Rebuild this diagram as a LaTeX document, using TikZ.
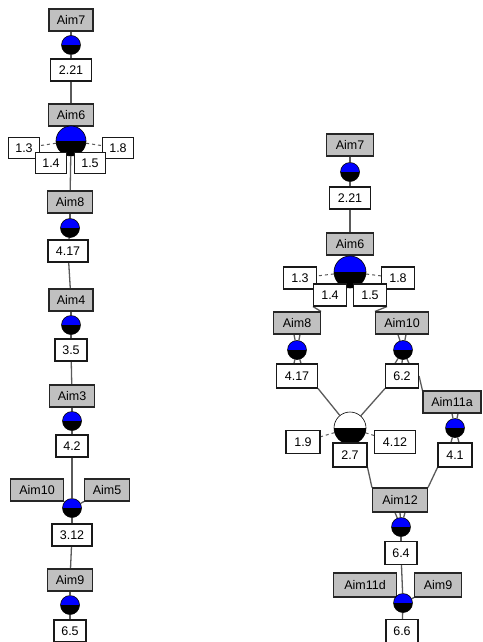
\documentclass[tikz,border=0pt]{standalone}
\usepackage{fontspec}
\setmainfont{Liberation Sans}
\usetikzlibrary{backgrounds,calc}
\definecolor{aimgray}{RGB}{192,192,192}
\definecolor{edgegray}{RGB}{90,90,90}
\tikzset{
  aim/.style={draw=black!85, fill=aimgray, line width=1.1pt, minimum height=22pt, inner sep=1pt, font=\fontsize{12.5}{12.5}\selectfont},
  val/.style={draw=black!90, fill=white, line width=1.1pt, minimum height=22pt, inner sep=1pt, font=\fontsize{12.5}{12.5}\selectfont},
  half/.style={circle, draw=black, line width=0.6pt, minimum size=#1, inner sep=0pt,
    path picture={\fill[blue] (path picture bounding box.west) rectangle (path picture bounding box.north east);
                  \fill[black] (path picture bounding box.west) rectangle (path picture bounding box.south east);}},
  half/.default=19pt,
  whalf/.style={circle, draw=black, line width=0.6pt, minimum size=#1, inner sep=0pt,
    path picture={\fill[white] (path picture bounding box.west) rectangle (path picture bounding box.north east);
                  \fill[black] (path picture bounding box.west) rectangle (path picture bounding box.south east);}},
  edge/.style={draw=edgegray, line width=1.3pt},
  dedge/.style={draw=edgegray, line width=1pt, dashed},
}
\begin{document}
\begin{tikzpicture}[x=1pt,y=-1pt]
\useasboundingbox (0,0) rectangle (482,642);
% ---------- left column ----------
\node[aim, minimum width=44pt] (A7L) at (71,20) {Aim7};
\node[half] (c7L) at (71,45) {};
\node[val, minimum width=41pt] (v221L) at (71,70) {2.21};
\node[aim, minimum width=45pt] (A6L) at (71,115) {Aim6};
\node[half=30pt] (C6L) at (71,141) {};
\node[val, minimum width=31pt, minimum height=21pt] (v13L) at (24,148) {1.3};
\node[val, minimum width=31pt, minimum height=21pt] (v18L) at (118,148) {1.8};
\node[val, minimum width=31pt, minimum height=21pt] (v14L) at (51,163) {1.4};
\node[val, minimum width=31pt, minimum height=21pt] (v15L) at (90,163) {1.5};
\node[aim, minimum width=45pt] (A8L) at (70,202) {Aim8};
\node[half] (c8L) at (70,228) {};
\node[val, minimum width=40pt] (v417L) at (68,251) {4.17};
\node[aim, minimum width=44pt] (A4L) at (71,300) {Aim4};
\node[half] (c4L) at (71,325) {};
\node[val, minimum width=32pt] (v35L) at (71,350) {3.5};
\node[aim, minimum width=45pt] (A3L) at (72,396) {Aim3};
\node[half] (c3L) at (72,421) {};
\node[val, minimum width=32pt] (v42L) at (72,446) {4.2};
\node[aim, minimum width=53pt] (A10L) at (37,490) {Aim10};
\node[aim, minimum width=45pt] (A5L) at (107,490) {Aim5};
\node[half] (c5L) at (72,508) {};
\node[val, minimum width=40pt] (v312L) at (72,535) {3.12};
\node[aim, minimum width=45pt] (A9L) at (70,580) {Aim9};
\node[half] (c9L) at (70,605) {};
\node[val, minimum width=32pt] (v65L) at (70,631) {6.5};
% ---------- right column ----------
\node[aim, minimum width=47pt] (A7R) at (350,145) {Aim7};
\node[half] (c7R) at (350,172) {};
\node[val, minimum width=41pt] (v221R) at (350,198) {2.21};
\node[aim, minimum width=47pt] (A6R) at (350,244) {Aim6};
\node[half=32pt] (C6R) at (350,272) {};
\node[val, minimum width=33pt] (v13R) at (300,278) {1.3};
\node[val, minimum width=33pt] (v18R) at (398,278) {1.8};
\node[val, minimum width=33pt] (v14R) at (330,295) {1.4};
\node[val, minimum width=33pt] (v15R) at (370,295) {1.5};
\node[aim, minimum width=47pt] (A8R) at (297,323) {Aim8};
\node[aim, minimum width=53pt] (A10R) at (402,323) {Aim10};
\node[half] (c8R) at (297,350) {};
\node[half] (c10R) at (403,350) {};
\node[val, minimum width=41pt, minimum height=24pt] (v417R) at (297,376) {4.17};
\node[val, minimum width=33pt, minimum height=24pt] (v62R) at (402,376) {6.2};
\node[aim, minimum width=58pt] (A11aR) at (452,402) {Aim11a};
\node[half] (c11R) at (455,428) {};
\node[val, minimum width=34pt, minimum height=24pt] (v41R) at (455,455) {4.1};
\node[whalf=32pt] (WC) at (350,428) {};
\node[val, minimum width=34pt, minimum height=23pt] (v19R) at (303,442) {1.9};
\node[val, minimum width=41pt, minimum height=23pt] (v412R) at (395,442) {4.12};
\node[val, minimum width=34pt, minimum height=24pt] (v27R) at (350,455) {2.7};
\node[aim, minimum width=55pt, minimum height=24pt] (A12R) at (400,500) {Aim12};
\node[half] (c12R) at (401,527) {};
\node[val, minimum width=32pt, minimum height=23pt] (v64R) at (401,553) {6.4};
\node[aim, minimum width=63pt, minimum height=24pt] (A11dR) at (365,585) {Aim11d};
\node[aim, minimum width=47pt, minimum height=24pt] (A9R) at (438,585) {Aim9};
\node[half] (c9R) at (403,603) {};
\node[val, minimum width=32pt, minimum height=23pt] (v66R) at (402,631) {6.6};
% ---------- edges ----------
\begin{scope}[on background layer]
% left
\draw[edge] (A7L) -- (c7L);
\draw[edge] (c7L) -- (v221L);
\draw[edge] (v221L) -- (A6L);
\draw[edge] (A6L) -- (C6L);
\draw[edge] (C6L) -- (A8L);
\draw[dedge] (C6L) -- (v13L);
\draw[dedge] (C6L) -- (v18L);
\draw[edge] (A8L) -- (c8L);
\draw[edge] (c8L) -- (v417L);
\draw[edge] (v417L) -- (A4L);
\draw[edge] (A4L) -- (c4L);
\draw[edge] (c4L) -- (v35L);
\draw[edge] (v35L) -- (A3L);
\draw[edge] (A3L) -- (c3L);
\draw[edge] (c3L) -- (v42L);
\draw[edge] (v42L) -- (c5L);
\draw[edge] (A10L.south east) -- (c5L);
\draw[edge] (A5L.south west) -- (c5L);
\draw[edge] (c5L) -- (v312L);
\draw[edge] (v312L) -- (A9L);
\draw[edge] (A9L) -- (c9L);
\draw[edge] (c9L) -- (v65L);
% right
\draw[edge] (A7R) -- (c7R);
\draw[edge] (c7R) -- (v221R);
\draw[edge] (v221R) -- (A6R);
\draw[edge] (A6R) -- (C6R);
\draw[dedge] (C6R) -- (v13R);
\draw[dedge] (C6R) -- (v18R);
\draw[edge] (C6R) -- (v14R);
\draw[edge] (C6R) -- (v15R);
\draw[edge] (v14R.south west) -- (A8R.north east);
\draw[edge] (v15R.south east) -- (A10R.north west);
\draw[edge] ($(A8R.south)+(-3,0)$) -- (c8R);
\draw[edge] ($(A8R.south)+(3,0)$) -- (c8R);
\draw[edge] (c8R) -- ($(v417R.north)+(-3,0)$);
\draw[edge] (c8R) -- ($(v417R.north)+(4,0)$);
\draw[edge] ($(A10R.south)+(-4,0)$) -- (c10R);
\draw[edge] ($(A10R.south)+(4,0)$) -- (c10R);
\draw[edge] (c10R) -- ($(v62R.north)+(-7,0)$);
\draw[edge] (c10R) -- ($(v62R.north)+(0,0)$);
\draw[edge] (c10R) -- ($(v62R.north)+(7,0)$);
\draw[edge] (v417R.south east) -- (WC);
\draw[edge] (v62R.south west) -- (WC);
\draw[edge] (v62R.east) -- (A11aR.north west);
\draw[edge] ($(A11aR.south)+(0,0)$) -- (c11R);
\draw[edge] ($(A11aR.south)+(6,0)$) -- (c11R);
\draw[edge] (c11R) -- ($(v41R.north)+(-4,0)$);
\draw[edge] (c11R) -- ($(v41R.north)+(4,0)$);
\draw[dedge] (WC) -- (v19R);
\draw[dedge] (WC) -- (v412R);
\draw[edge] (WC) -- (v27R);
\draw[edge] (v27R.south east) -- (A12R.north west);
\draw[edge] (v41R.south west) -- (A12R.north east);
\draw[edge] ($(A12R.south)+(-5,0)$) -- (c12R);
\draw[edge] ($(A12R.south)+(0,0)$) -- (c12R);
\draw[edge] ($(A12R.south)+(5,0)$) -- (c12R);
\draw[edge] (c12R) -- (v64R);
\draw[edge] (v64R) -- (c9R);
\draw[edge] (A11dR.south east) -- (c9R);
\draw[edge] (A9R.south west) -- (c9R);
\draw[edge] (c9R) -- (v66R);
\end{scope}
\end{tikzpicture}
\end{document}
